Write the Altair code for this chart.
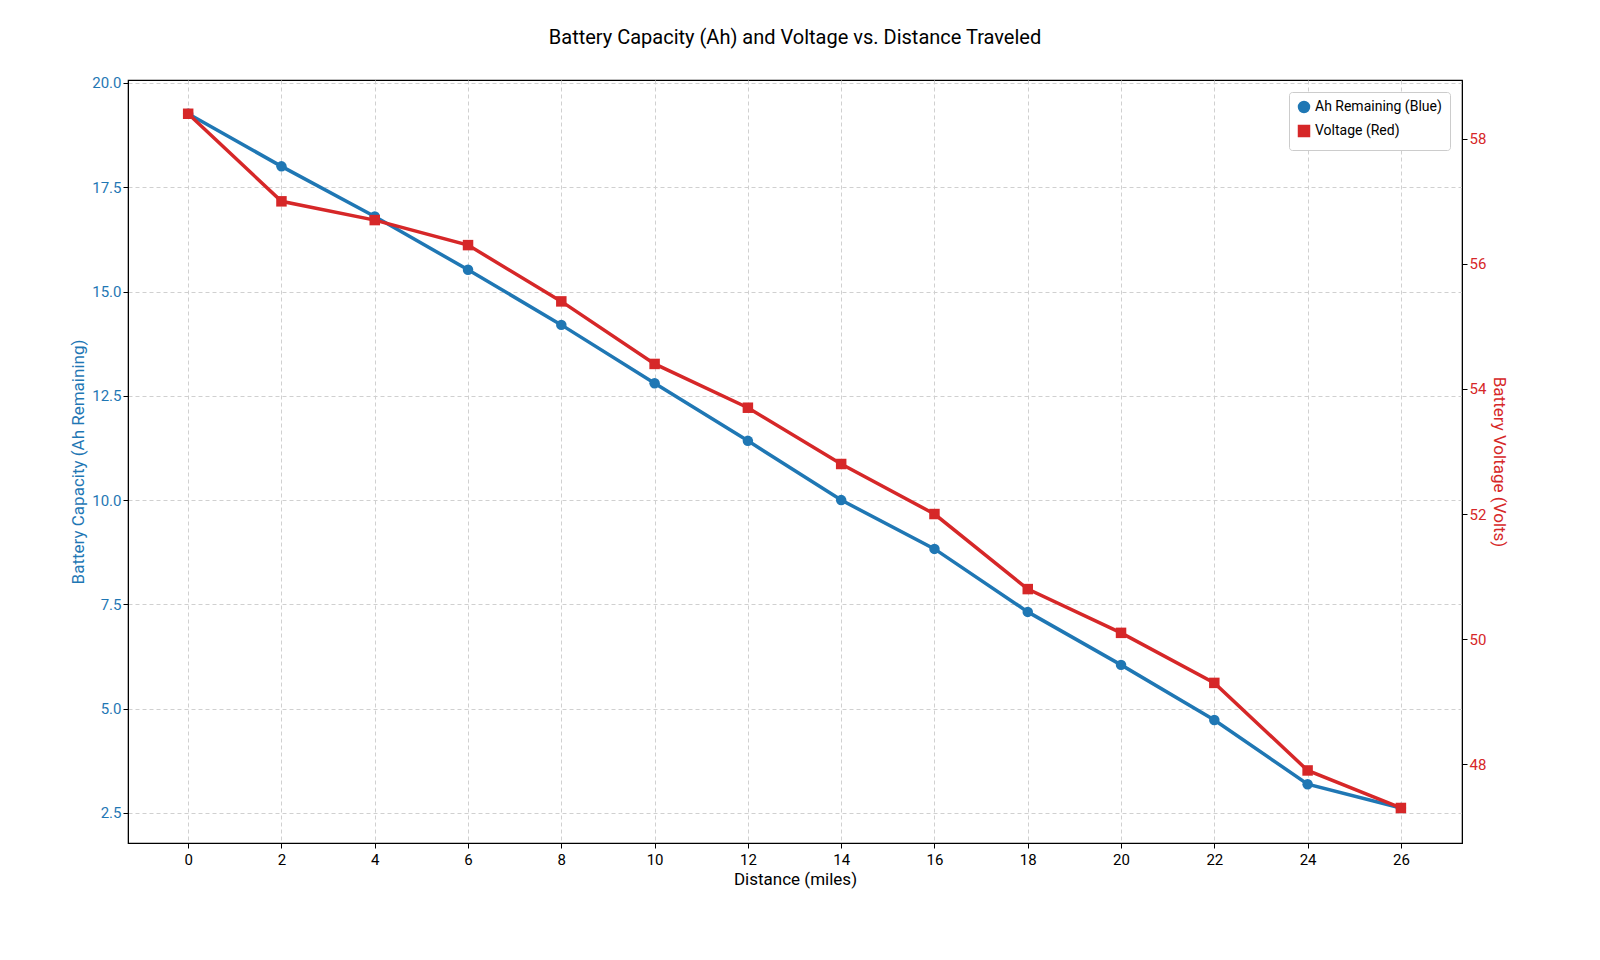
import altair as alt
import pandas as pd

distance = [0, 2, 4, 6, 8, 10, 12, 14, 16, 18, 20, 22, 24, 26]
ah = [19.26, 18.0, 16.8, 15.52, 14.2, 12.8, 11.42, 10.0, 8.83, 7.32, 6.05, 4.73, 3.19, 2.62]
volts = [58.4, 57.0, 56.7, 56.3, 55.4, 54.4, 53.7, 52.8, 52.0, 50.8, 50.1, 49.3, 47.9, 47.3]
names = ["Ah Remaining (Blue)", "Voltage (Red)"]
colors = ["#1f77b4", "#d62728"]

df = pd.DataFrame({"d": distance, "ah": ah, "v": volts})
df["s1"] = names[0]
df["s2"] = names[1]

F = "Roboto"
cscale = alt.Scale(domain=names, range=colors)
sscale = alt.Scale(domain=names, range=["circle", "square"])
xenc = alt.X("d:Q", scale=alt.Scale(domain=[-1.29, 27.31], nice=False, zero=False),
             axis=alt.Axis(values=distance, title="Distance (miles)", grid=True,
                           gridDash=[4, 3], gridColor="#d0d0d0", tickColor="black",
                           domainColor="black", labelColor="black", titleColor="black",
                           labelFontSize=15, titleFontSize=17, labelFont=F, titleFont=F,
                           titleFontWeight="normal", labelPadding=4))
legend = alt.Legend(title=None, orient="top-right", labelFontSize=14, labelFont=F,
                    strokeColor="#cccccc", fillColor="white", padding=8, symbolSize=90,
                    symbolStrokeWidth=3, offset=12, cornerRadius=3)

base = alt.Chart(df)
blue = base.encode(
    x=xenc,
    y=alt.Y("ah:Q", scale=alt.Scale(domain=[1.78, 20.07], nice=False, zero=False),
            axis=alt.Axis(values=[2.5, 5, 7.5, 10, 12.5, 15, 17.5, 20], format=".1f",
                          title="Battery Capacity (Ah Remaining)", grid=True, gridDash=[4, 3],
                          gridColor="#d0d0d0", labelColor=colors[0], titleColor=colors[0],
                          tickColor="black", domainColor="black", labelFontSize=15,
                          titleFontSize=17, labelFont=F, titleFont=F, titleFontWeight="normal")),
    color=alt.Color("s1:N", scale=cscale, legend=legend),
    shape=alt.Shape("s1:N", scale=sscale, legend=legend),
)
bl = blue.mark_line(strokeWidth=3.5) + blue.mark_point(filled=True, size=110, opacity=1)

red = base.encode(
    x=xenc,
    y=alt.Y("v:Q", scale=alt.Scale(domain=[46.74, 58.94], nice=False, zero=False),
            axis=alt.Axis(orient="right", values=[48, 50, 52, 54, 56, 58],
                          title="Battery Voltage (Volts)", grid=False,
                          labelColor=colors[1], titleColor=colors[1], tickColor="black",
                          domainColor="black", labelFontSize=15, titleFontSize=17,
                          labelFont=F, titleFont=F, titleFontWeight="normal")),
    color=alt.Color("s2:N", scale=cscale, legend=legend),
    shape=alt.Shape("s2:N", scale=sscale, legend=legend),
)
rl = red.mark_line(strokeWidth=3.5) + red.mark_point(filled=True, size=110, opacity=1)

chart = alt.layer(bl, rl).resolve_scale(y="independent").properties(
    width=1334, height=763,
    title=alt.Title("Battery Capacity (Ah) and Voltage vs. Distance Traveled",
                    fontSize=20, font=F, fontWeight="normal", offset=28),
    autosize=alt.AutoSizeParams(type="none"),
    padding={"left": 120, "top": 72, "right": 110, "bottom": 80},
).configure_view(stroke="black", strokeWidth=1.2)

chart.save("out.html", embed_options={"renderer": "svg", "actions": False})
